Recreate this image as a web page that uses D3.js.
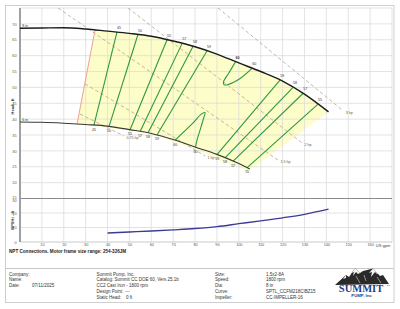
<!DOCTYPE html>
<html><head><meta charset="utf-8">
<script src="https://cdn.jsdelivr.net/npm/d3@7"></script>
<style>
body{margin:0;background:#fff}
svg{display:block;font-family:"Liberation Sans",Arial,sans-serif}
</style>
</head><body>
<svg id="c" width="400" height="309"></svg>
<script>
// ---------- data ----------
const flowTicks = [10,20,30,40,50,60,70,80,90,100,110,120,130,140,150,160];
const headTicks = [15,20,25,30,35,40,45,50,55,60,65,70];
const npshTicks = [0,10,20,30];

const curve8Flow = [0,10,20,30,40,50,60,70,80,90,100,110,120,130,141];
const curve8Head = [68.6,68.7,68.8,68.4,67.7,67.0,66.1,64.6,62.8,60.5,57.7,55.0,52.0,47.9,42.3];
const curve6Flow = [0,10,20,30,40,50,60,70,80,90,100,105];
const curve6Head = [39.1,39.0,38.7,38.3,37.8,36.7,35.5,33.6,31.2,28.9,26.0,24.3];

const effValues     = [45,50,55,57,58,59,59,58,57,55];
const effTopFlow    = [44.3,53.9,67.2,74.1,79.1,85.5,118.9,124.8,129.4,136.2];
const effBottomFlow = [33.8,40.7,50.3,54.9,58.5,62.6,90.1,93.7,97.4,103.8];

const loopTop    = [[98.5,58.1],[95.5,54.6],[93.0,51.7],[93.3,50.8],[95.1,50.9],[100.6,52.8],[106.1,56.05]];
const loopBottom = [[70.9,33.4],[79.1,38.8],[82.7,41.5],[84.6,42.0],[84.1,40.7],[82.7,37.5],[80.9,33.4],[80.2,31.15]];
const loopValue = 60;

const hpLabels = ["0.75 hp","1 hp","1.5 hp","2 hp","3 hp"];
const hpStart  = [[27.4,41.6],[29.7,51.1],[17.4,75],[49.4,75],[90.5,75]];
const hpEnd    = [[47.5,34.7],[84.6,28.4],[117.9,27.1],[128.9,32.5],[147.7,42.6]];

const redLine = [[34.3,68.1],[26.1,38.5]];
const regionRight  = [[141,42.3],[104.5,23.6]];
const regionBottom = [[93.7,26.5],[82.3,29.7],[70.9,32.8],[59.4,35.3],[50.3,36.4],[36.6,37.7],[26.1,38.5]];

const npshFlow = [40,50,60,70,80,90,100,110,120,130,141];
const npshReq  = [6.2,6.9,7.6,8.4,9.3,10.6,12.6,14.6,16.7,19.1,22.6];

const infoLeftLabels = ["Company:","Name:","Date:"];
const infoLeftValues = ["","","07/11/2025"];
const infoMid = ["Summit Pump, Inc.","Catalog: Summit CC DOE 60, Vers 25.1b","CC2 Cast Iron - 1800 rpm","Design Point:","Static Head:"];
const infoMidValues = ["","","","---","0 ft"];
const infoRightLabels = ["Size:","Speed:","Dia:","Curve:","Impeller:"];
const infoRightValues = ["1.5x2-8A","1800 rpm","8 in","SPTL_CCFM218CIBZ15","CC-IMPELLER-16"];

// ---------- helpers ----------
const svg = d3.select("#c");
const x  = d3.scaleLinear().domain([0,170]).range([20,392]);
const yH = d3.scaleLinear().domain([15,75]).range([198.5,8]);
const yN = d3.scaleLinear().domain([0,30]).range([242,198.5]);
function interp(fl, hd, q){
  for(let i=0;i<fl.length-1;i++){
    if(q>=fl[i] && q<=fl[i+1]) return hd[i]+(hd[i+1]-hd[i])*(q-fl[i])/(fl[i+1]-fl[i]);
  }
  return hd[hd.length-1];
}
const h8 = q=>interp(curve8Flow,curve8Head,q);
const h6 = q=>interp(curve6Flow,curve6Head,q);

// outer frame
svg.append("rect").attr("x",5.5).attr("y",5.5).attr("width",388.5).attr("height",297)
  .attr("fill","none").attr("stroke","#cfcfcf").attr("stroke-width",1);

// ---------- yellow operating region ----------
const regPts = [];
regPts.push(redLine[0]);
curve8Flow.forEach((q,i)=>{ if(q>redLine[0][0]) regPts.push([q,curve8Head[i]]); });
regPts.push(regionRight[1]);
regionBottom.forEach(p=>regPts.push(p));
svg.append("path").attr("d", d3.line().x(d=>x(d[0])).y(d=>yH(d[1]))(regPts)+"Z")
  .attr("fill","#fdfdc9").attr("stroke","none");

// ---------- grid ----------
const grid = svg.append("g").attr("stroke","#dcdcdc").attr("stroke-width",0.8);
[0,...flowTicks,170].forEach(q=>{
  grid.append("line").attr("x1",x(q)).attr("x2",x(q)).attr("y1",yH(75)).attr("y2",yN(0));
});
headTicks.concat([75]).forEach(h=>{
  grid.append("line").attr("x1",x(0)).attr("x2",x(170)).attr("y1",yH(h)).attr("y2",yH(h));
});
[10,20].forEach(v=>{
  grid.append("line").attr("x1",x(0)).attr("x2",x(170)).attr("y1",yN(v)).attr("y2",yN(v));
});
svg.append("line").attr("x1",x(0)).attr("x2",x(170)).attr("y1",yH(15)).attr("y2",yH(15))
  .attr("stroke","#8a8a8a").attr("stroke-width",1);
svg.append("line").attr("x1",x(0)).attr("x2",x(170)).attr("y1",yN(0)).attr("y2",yN(0))
  .attr("stroke","#bdbdbd").attr("stroke-width",0.8);
svg.append("line").attr("x1",x(0)).attr("x2",x(0)).attr("y1",yH(75)).attr("y2",yN(0))
  .attr("stroke","#a0a0a0").attr("stroke-width",2);

// ---------- axes labels ----------
const tickFont = (sel)=>sel.attr("font-size",3.8).attr("fill","#555").attr("font-family","Liberation Sans, Arial");
const axH = svg.append("g").attr("transform",`translate(${x(0)-1},0)`)
  .call(d3.axisLeft(yH).tickValues(headTicks).tickSize(0).tickPadding(2.5));
axH.select(".domain").remove();
tickFont(axH.selectAll("text")).attr("dy",d=>d===15?"-0.1em":"0.32em");
const axN = svg.append("g").attr("transform",`translate(${x(0)-1},0)`)
  .call(d3.axisLeft(yN).tickValues(npshTicks).tickSize(0).tickPadding(2.5));
axN.select(".domain").remove();
tickFont(axN.selectAll("text")).attr("dy",d=>d===30?"0.8em":"0.32em");
const axX = svg.append("g").attr("transform",`translate(0,${yN(0)})`)
  .call(d3.axisBottom(x).tickValues(flowTicks).tickSize(0).tickPadding(1.2));
axX.select(".domain").remove();
tickFont(axX.selectAll("text"));
svg.append("text").attr("x",383).attr("y",yN(0)+5).attr("text-anchor","middle")
  .attr("font-size",4).attr("fill","#444").text("US gpm");

svg.append("text").attr("transform",`translate(13.5,${yH(44)}) rotate(-90)`).attr("text-anchor","middle")
  .attr("font-size",4).attr("font-weight","bold").attr("fill","#333").text("Head - ft");
svg.append("text").attr("transform",`translate(13.5,${yN(15)}) rotate(-90)`).attr("text-anchor","middle")
  .attr("font-size",4).attr("font-weight","bold").attr("fill","#333").text("NPSHr - ft");

// ---------- hp lines ----------
const hpG = svg.append("g");
hpLabels.forEach((lab,i)=>{
  hpG.append("line").attr("x1",x(hpStart[i][0])).attr("y1",yH(hpStart[i][1]))
    .attr("x2",x(hpEnd[i][0])).attr("y2",yH(hpEnd[i][1]))
    .attr("stroke","#b9a28c").attr("stroke-width",0.8).attr("stroke-dasharray","3.5,2.5");
  hpG.append("text").attr("x",x(hpEnd[i][0])+2.5).attr("y",yH(hpEnd[i][1])+3)
    .attr("font-size",3.6).attr("fill","#555").text(lab);
});

// ---------- red min flow line ----------
svg.append("line").attr("x1",x(redLine[0][0])).attr("y1",yH(redLine[0][1]))
  .attr("x2",x(redLine[1][0])).attr("y2",yH(redLine[1][1]))
  .attr("stroke","#e88a80").attr("stroke-width",0.8);

// ---------- efficiency lines ----------
const effG = svg.append("g");
const lineG = d3.line().x(d=>x(d[0])).y(d=>yH(d[1]));
effValues.forEach((e,i)=>{
  const a=[effTopFlow[i],h8(effTopFlow[i])], b=[effBottomFlow[i],h6(effBottomFlow[i])];
  effG.append("path").attr("d",lineG([a,b])).attr("fill","none")
    .attr("stroke","#2e9a3d").attr("stroke-width",1.1);
  effG.append("text").attr("x",x(a[0])+2).attr("y",yH(a[1])-3).attr("text-anchor","middle")
    .attr("font-size",3.6).attr("fill","#333").text(e);
  effG.append("text").attr("x",x(b[0])).attr("y",yH(b[1])+5.5).attr("text-anchor","middle")
    .attr("font-size",3.6).attr("fill","#333").text(e);
});
const lineC = d3.line().x(d=>x(d[0])).y(d=>yH(d[1])).curve(d3.curveCatmullRom.alpha(0.5));
[loopTop,loopBottom].forEach((pts,k)=>{
  effG.append("path").attr("d",lineC(pts)).attr("fill","none")
    .attr("stroke","#2e9a3d").attr("stroke-width",1.1);
  const a=pts[0], b=pts[pts.length-1];
  const off = k===0 ? -3 : 5.5;
  effG.append("text").attr("x",x(a[0])+(k===0?2:0)).attr("y",yH(a[1])+off).attr("text-anchor","middle")
    .attr("font-size",3.6).attr("fill","#333").attr("font-weight",k===0?"bold":"normal").text(loopValue);
  effG.append("text").attr("x",x(b[0])+(k===0?2:0)).attr("y",yH(b[1])+off).attr("text-anchor","middle")
    .attr("font-size",3.6).attr("fill","#333").text(loopValue);
});

// ---------- head curves ----------
const lineM = d3.line().x(d=>x(d[0])).y(d=>yH(d[1])).curve(d3.curveMonotoneX);
svg.append("path").attr("d",lineM(curve8Flow.map((q,i)=>[q,curve8Head[i]])))
  .attr("fill","none").attr("stroke","#1c1c1c").attr("stroke-width",1.4);
svg.append("path").attr("d",lineM(curve6Flow.map((q,i)=>[q,curve6Head[i]])))
  .attr("fill","none").attr("stroke","#3a3a3a").attr("stroke-width",1.1);
svg.append("text").attr("x",x(1)).attr("y",yH(curve8Head[0])-1.5).attr("font-size",3.6).attr("fill","#333").text("8 in");
svg.append("text").attr("x",x(1)).attr("y",yH(curve6Head[0])-1).attr("font-size",3.6).attr("fill","#333").text("6 in");

// ---------- NPSH curve ----------
const lineN = d3.line().x(d=>x(d[0])).y(d=>yN(d[1])).curve(d3.curveMonotoneX);
svg.append("path").attr("d",lineN(npshFlow.map((q,i)=>[q,npshReq[i]])))
  .attr("fill","none").attr("stroke","#3d3a96").attr("stroke-width",1.3);

// ---------- notes ----------
svg.append("text").attr("x",9).attr("y",252.6).attr("font-size",4.6).attr("font-weight","bold")
  .attr("fill","#222").text("NPT Connections. Motor frame size range: 254-326JM");

// ---------- info box ----------
svg.append("line").attr("x1",5.5).attr("x2",394).attr("y1",268.5).attr("y2",268.5)
  .attr("stroke","#c8c8c8").attr("stroke-width",1);
const rows = [274,279.7,285.4,291.2,297];
const info = svg.append("g").attr("font-size",4.5).attr("fill","#333");
infoLeftLabels.forEach((t,i)=>{
  info.append("text").attr("x",9).attr("y",rows[i]+1.6).text(t);
  if(infoLeftValues[i]) info.append("text").attr("x",32).attr("y",rows[i]+1.6).text(infoLeftValues[i]);
});
infoMid.forEach((t,i)=>{
  info.append("text").attr("x",96.5).attr("y",rows[i]+1.6).text(t);
  if(infoMidValues[i]) info.append("text").attr("x",i===3?125:126).attr("y",rows[i]+1.6).text(infoMidValues[i]);
});
infoRightLabels.forEach((t,i)=>{
  info.append("text").attr("x",215).attr("y",rows[i]+1.6).text(t);
  info.append("text").attr("x",266).attr("y",rows[i]+1.6).text(infoRightValues[i]);
});

// ---------- logo ----------
const logo = svg.append("g");
logo.append("path").attr("d","M335,285 L346,275 L349,277 L355,268 L360,273 L363,271 L373,268.5 L380,276 L383,275 L389,284 Z")
  .attr("fill","#2a2a2a");
logo.append("path").attr("d","M355,268 L352,273 L354,272 L353,276 L356,272 L358,274 L360,273 Z M373,268.5 L369,273 L372,272 L371,277 L375,272 L377,274 L378,274 Z M346,275 L343,279 L346,278 Z")
  .attr("fill","#f4f4f4");
logo.append("path").attr("d","M356,276 L360,283 M364,275 L366,281 M377,277 L381,283").attr("stroke","#bdbdbd").attr("stroke-width",0.7);
logo.append("text").attr("x",361).attr("y",292).attr("text-anchor","middle")
  .attr("font-family","Liberation Serif, Times New Roman, serif").attr("font-weight","bold")
  .attr("font-size",10.5).attr("fill","#1f3d8c").text("SUMMIT");
logo.append("text").attr("x",386.5).attr("y",286).attr("font-size",2.5).attr("fill","#1f3d8c").text("TM");
logo.append("text").attr("x",361.5).attr("y",296.6).attr("text-anchor","middle")
  .attr("font-size",4.3).attr("font-weight","bold").attr("fill","#1f3d8c").text("PUMP, Inc");
</script>
</body></html>
